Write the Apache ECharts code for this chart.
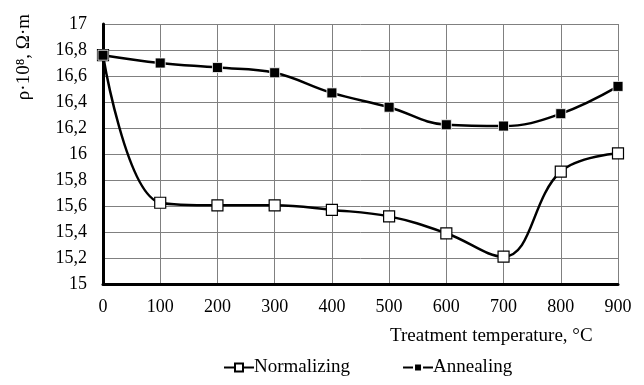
<!DOCTYPE html>
<html><head><meta charset="utf-8">
<script src="https://cdn.jsdelivr.net/npm/echarts@6/dist/echarts.min.js"></script>
<style>html,body{margin:0;padding:0;background:#fff}#c{width:644px;height:385px}</style>
</head><body><div id="c"></div>
<script>
var temps = [0, 100, 200, 300, 400, 500, 600, 700, 800, 900];
var normalizing = [16.76, 15.625, 15.605, 15.605, 15.57, 15.52, 15.39, 15.21, 15.865, 16.005];
var annealing = [16.76, 16.70, 16.665, 16.625, 16.47, 16.36, 16.225, 16.215, 16.31, 16.52];
var seriesNames = ['Normalizing', 'Annealing'];
var yTitle = 'ρ·10⁸, Ω·m';
var xTitle = 'Treatment temperature, °C';

function pairs(vals){ return temps.map(function(t,i){ return [t, vals[i]]; }); }
var font = '"Liberation Serif", "Times New Roman", serif';
var chart = echarts.init(document.getElementById('c'));
chart.setOption({
  animation: false,
  backgroundColor: '#fff',
  textStyle: { fontFamily: font },
  grid: { left: 103, right: 26, top: 24, bottom: 101 },
  xAxis: {
    type: 'value', min: 0, max: 900, interval: 100,
    axisLine: { show: true, onZero: false, lineStyle: { color: '#000', width: 3 } },
    axisTick: { show: false },
    axisLabel: { color: '#000', fontSize: 18, fontFamily: font, margin: 14 },
    splitLine: { show: true, lineStyle: { color: '#808080', width: 1 } }
  },
  yAxis: {
    type: 'value', min: 15, max: 17, interval: 0.2,
    axisLine: { show: true, lineStyle: { color: '#000', width: 3 } },
    axisTick: { show: false },
    axisLabel: { color: '#000', fontSize: 18, fontFamily: font, margin: 16,
      formatter: function(v){ return (Math.round(v*10)/10).toString().replace('.', ','); } },
    splitLine: { show: true, lineStyle: { color: '#808080', width: 1 } }
  },
  legend: {
    bottom: 3, left: 218, itemGap: 52, itemWidth: 30, itemHeight: 10,
    textStyle: { color: '#000', fontSize: 19, fontFamily: font, padding: [0,0,0,-5] },
    data: seriesNames
  },
  graphic: [
    { type: 'text', rotation: Math.PI/2,
      style: { text: yTitle, fill: '#000', font: '19px ' + font, textAlign: 'right', textVerticalAlign: 'top' },
      x: 15, y: 14 },
    { type: 'text', left: 390, top: 327,
      style: { text: xTitle, fill: '#000', font: '19px ' + font } }
  ],
  series: [
    { name: seriesNames[0], type: 'line', smooth: 0.4, data: pairs(normalizing),
      symbol: 'rect', symbolSize: 11,
      lineStyle: { color: '#000', width: 2.5 },
      itemStyle: { color: '#fff', borderColor: '#000', borderWidth: 1.2 }, z: 3 },
    { name: seriesNames[1], type: 'line', smooth: 0.4, data: pairs(annealing),
      symbol: 'rect', symbolSize: 10,
      lineStyle: { color: '#000', width: 2.5 },
      itemStyle: { color: '#000', borderColor: '#fff', borderWidth: 0.8 }, z: 4 }
  ]
});
</script></body></html>
